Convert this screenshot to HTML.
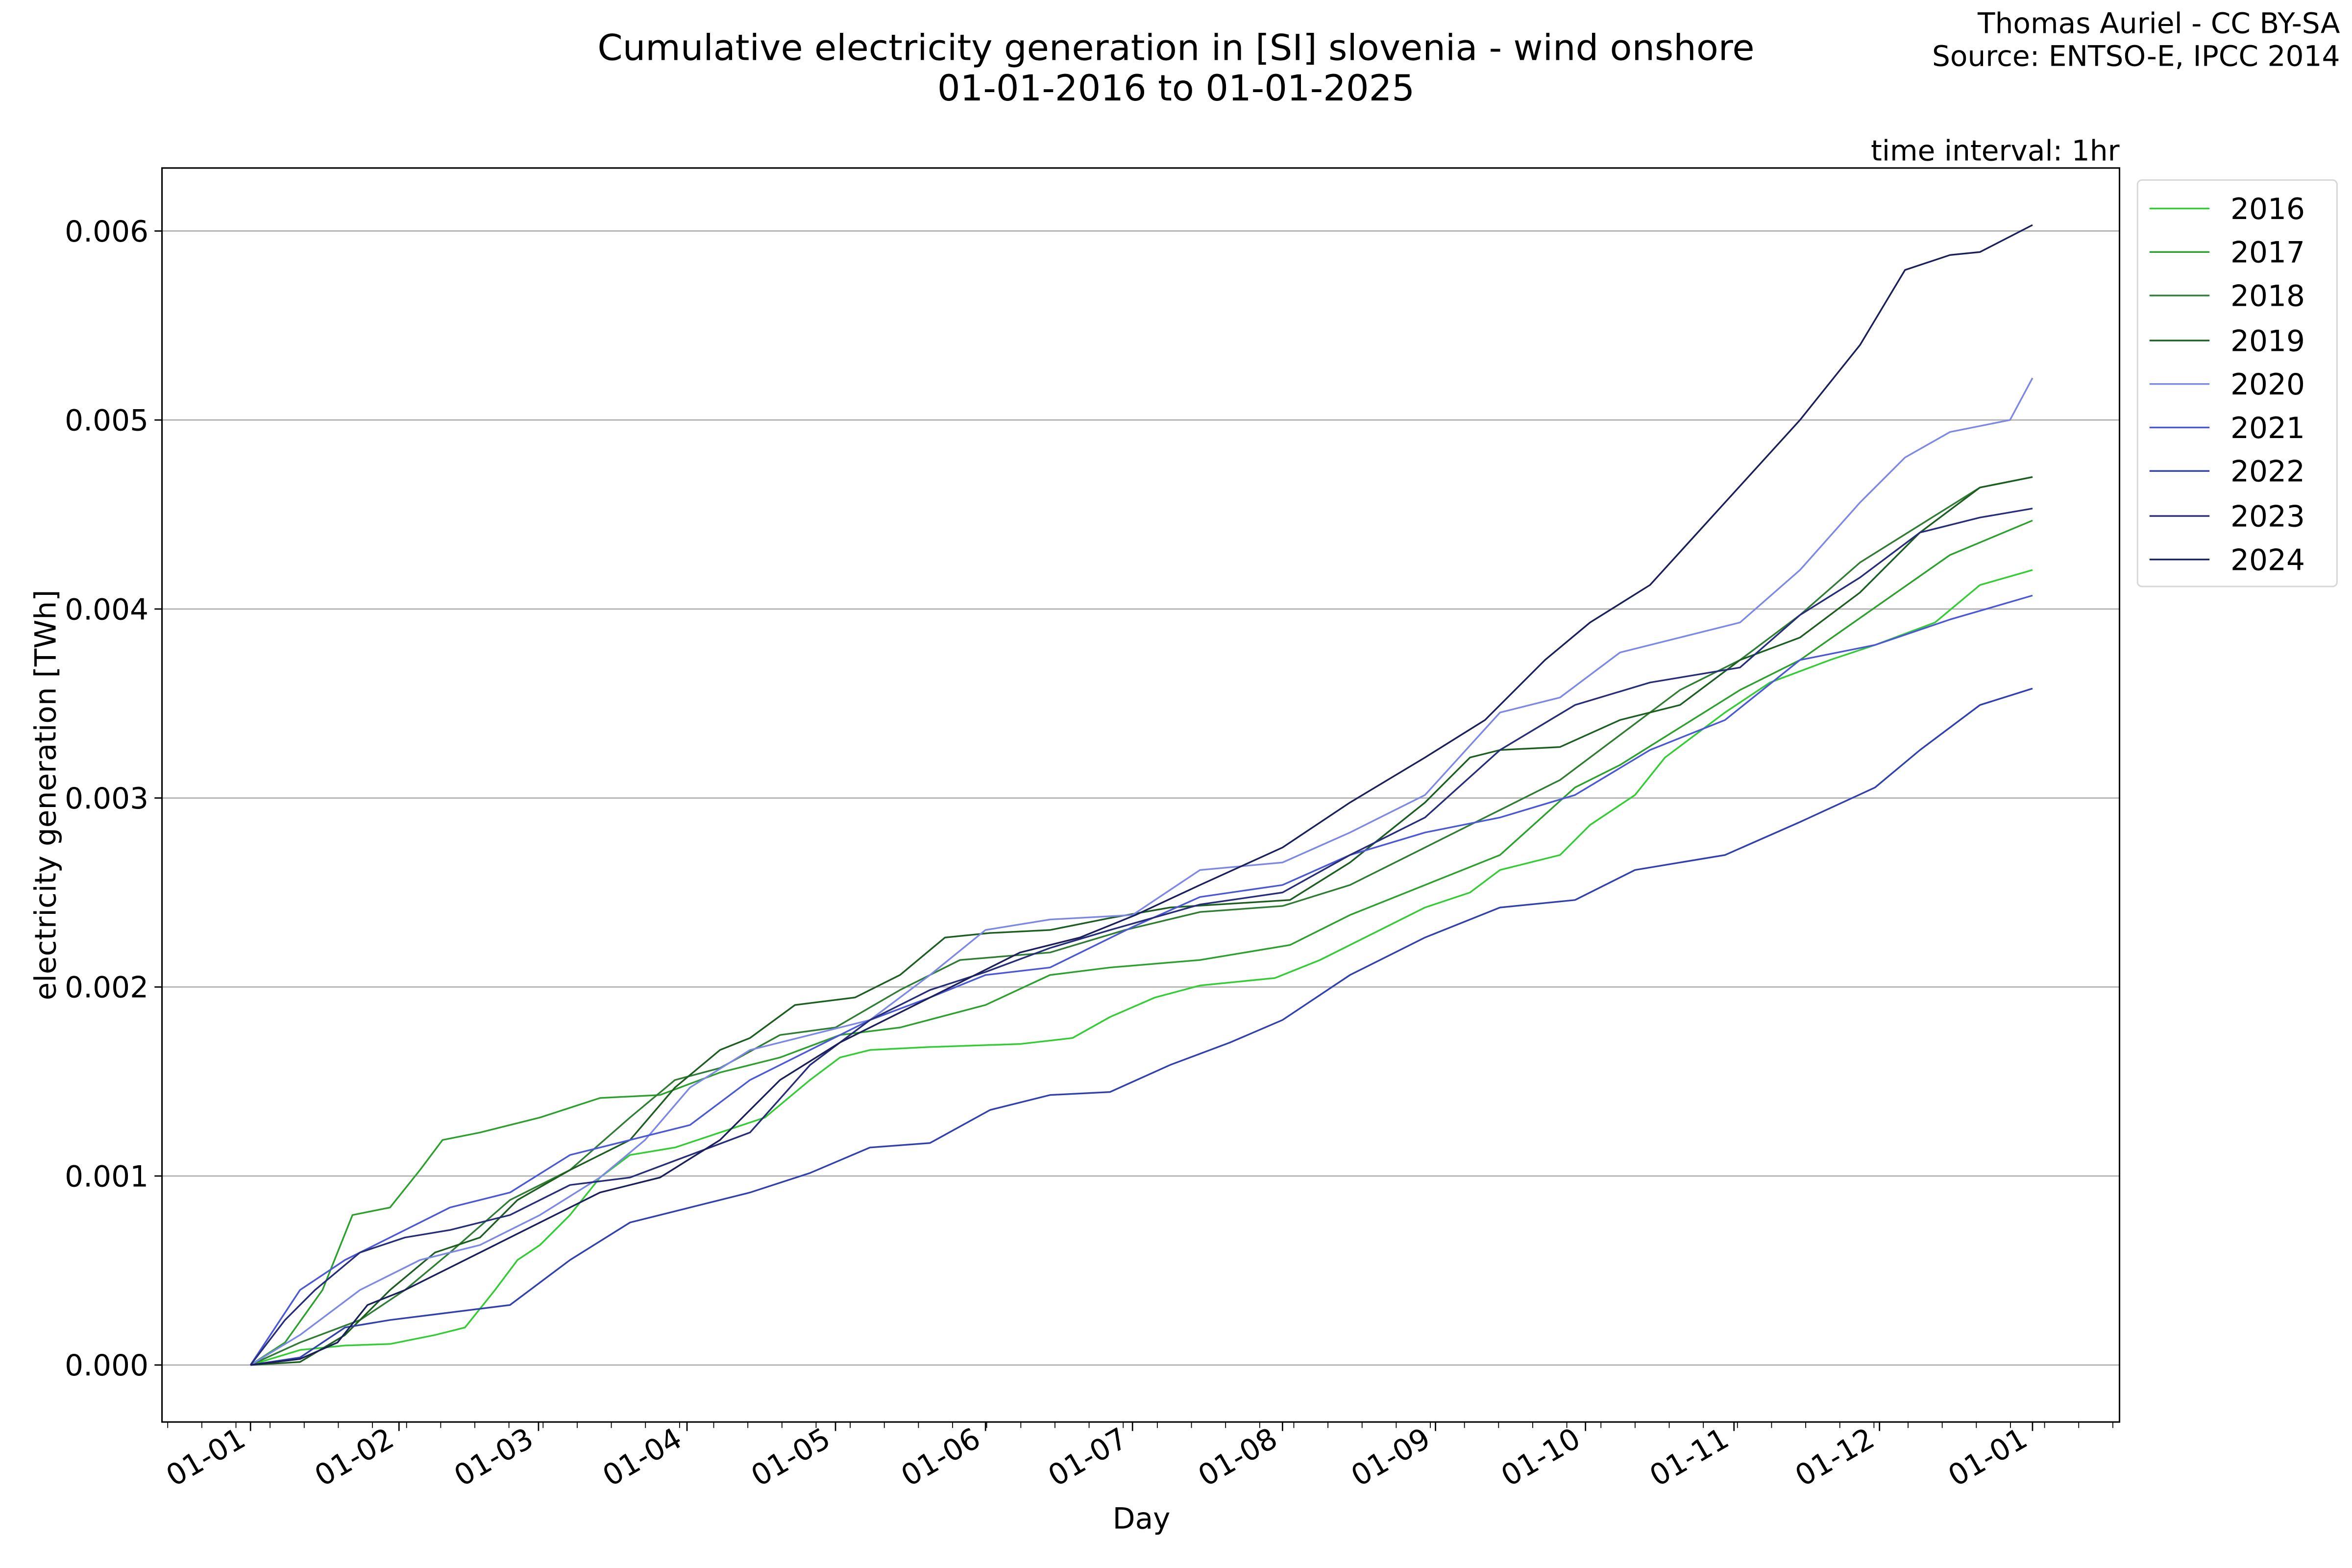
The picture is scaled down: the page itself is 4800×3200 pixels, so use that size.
<!DOCTYPE html>
<html><head><meta charset="utf-8"><style>
html,body{margin:0;padding:0;background:#fff;}
svg{display:block;}
text{font-family:"DejaVu Sans","Liberation Sans",sans-serif;fill:#000;}
</style></head><body>
<svg width="4800" height="3200" viewBox="0 0 1568 1045.33" xmlns="http://www.w3.org/2000/svg">
<rect width="1568" height="1046" fill="#fff"/>
<g font-size="24" text-anchor="middle">
<text x="784" y="40">Cumulative electricity generation in [SI] slovenia - wind onshore</text>
<text x="784" y="67">01-01-2016 to 01-01-2025</text>
</g>
<g font-size="19" text-anchor="end">
<text x="1560" y="22">Thomas Auriel - CC BY-SA</text>
<text x="1560" y="44">Source: ENTSO-E, IPCC 2014</text>
<text x="1413" y="107">time interval: 1hr</text>
</g>
<g stroke="#b0b0b0" stroke-width="0.9">
<line x1="108" x2="1413" y1="910" y2="910"/>
<line x1="108" x2="1413" y1="784" y2="784"/>
<line x1="108" x2="1413" y1="658" y2="658"/>
<line x1="108" x2="1413" y1="532" y2="532"/>
<line x1="108" x2="1413" y1="406" y2="406"/>
<line x1="108" x2="1413" y1="280" y2="280"/>
<line x1="108" x2="1413" y1="154" y2="154"/>
</g>
<g stroke="#000" stroke-width="0.9">
<line x1="103" x2="108" y1="910" y2="910"/><line x1="103" x2="108" y1="784" y2="784"/>
<line x1="103" x2="108" y1="658" y2="658"/><line x1="103" x2="108" y1="532" y2="532"/>
<line x1="103" x2="108" y1="406" y2="406"/><line x1="103" x2="108" y1="280" y2="280"/>
<line x1="103" x2="108" y1="154" y2="154"/>
</g>
<g font-size="19.5" text-anchor="end">
<text x="99" y="917">0.000</text><text x="99" y="791">0.001</text><text x="99" y="665">0.002</text>
<text x="99" y="539">0.003</text><text x="99" y="413">0.004</text><text x="99" y="287">0.005</text>
<text x="99" y="161">0.006</text>
</g>
<g fill="none" stroke-width="1.1" stroke-linejoin="round">
<polyline stroke="#32cd32" points="167,910 200,900 230,897 260,896 290,890 310,885 330,860 345,840 360,830 380,810 400,785 420,770 450,765 480,755 510,745 540,720 560,705 580,700 620,698 680,696 715,692 740,678 770,665 800,657 850,652 880,640 910,625 950,605 980,595 1000,580 1040,570 1060,550 1090,530 1110,505 1150,475 1180,455 1220,440 1250,430 1290,415 1320,390 1355,380"/>
<polyline stroke="#2ca02c" points="167,910 190,895 215,860 235,810 260,805 280,780 295,760 320,755 360,745 400,732 440,730 480,715 520,705 560,690 600,685 657,670 700,650 740,645 800,640 860,630 900,610 950,590 1000,570 1050,525 1080,510 1120,485 1160,460 1200,440 1250,405 1300,370 1355,347"/>
<polyline stroke="#2e7d32" points="167,910 200,895 240,880 270,860 300,835 340,800 380,780 420,745 450,720 480,712 520,690 557,685 600,660 640,640 700,635 750,620 800,608 855,604 900,590 950,565 1000,540 1040,520 1080,490 1120,460 1160,440 1200,410 1240,375 1280,350 1320,325 1355,318"/>
<polyline stroke="#1b5e20" points="167,910 200,908 230,890 260,860 290,835 320,825 345,800 380,780 420,760 450,725 480,700 500,692 530,670 570,665 600,650 630,625 660,622 700,620 740,612 780,605 860,600 900,575 950,535 980,505 1000,500 1040,498 1080,480 1120,470 1160,440 1200,425 1240,395 1280,355 1320,325 1355,318"/>
<polyline stroke="#7b88e6" points="167,910 200,890 240,860 280,840 320,830 360,810 400,785 430,760 460,725 500,700 540,690 580,680 620,650 657,620 700,613 755,610 800,580 855,575 900,555 950,530 1000,475 1040,465 1080,435 1120,425 1160,415 1200,380 1240,335 1270,305 1300,288 1340,280 1355,252"/>
<polyline stroke="#4a58d8" points="167,910 200,860 230,840 260,825 300,805 340,795 380,770 420,760 460,750 500,720 540,700 580,680 620,665 657,650 700,645 755,618 800,598 855,590 900,570 950,555 1000,545 1050,530 1100,500 1150,480 1200,440 1250,430 1300,413 1355,397"/>
<polyline stroke="#3040b0" points="167,910 200,905 230,885 260,880 300,875 340,870 380,840 420,815 460,805 500,795 540,782 580,765 620,762 660,740 700,730 740,728 780,710 820,695 855,680 900,650 950,625 1000,605 1050,600 1090,580 1150,570 1200,548 1250,525 1280,500 1320,470 1355,459"/>
<polyline stroke="#252c7a" points="167,910 190,880 210,860 240,835 270,825 300,820 340,810 380,790 420,785 460,770 500,755 540,710 580,680 620,660 657,648 700,632 740,620 800,603 855,595 900,570 950,545 1000,500 1050,470 1100,455 1160,445 1200,410 1240,385 1280,355 1320,345 1355,339"/>
<polyline stroke="#1a1f5c" points="167,910 200,906 225,895 245,870 270,860 300,845 330,830 360,815 400,795 440,785 480,760 520,720 560,695 600,675 640,655 680,635 720,625 757,610 800,590 855,565 900,535 950,505 990,480 1030,440 1060,415 1100,390 1150,335 1200,280 1240,230 1270,180 1300,170 1320,168 1355,150"/>
</g>
<rect x="108" y="112" width="1305" height="836" fill="none" stroke="#000" stroke-width="1"/>
<line x1="111.5" x2="1413" y1="950" y2="950" stroke="#000" stroke-width="4" stroke-dasharray="0.6 22.15"/>
<g stroke="#000" stroke-width="0.9">
<line x1="167" x2="167" y1="948" y2="954"/><line x1="266" x2="266" y1="948" y2="954"/>
<line x1="359" x2="359" y1="948" y2="954"/><line x1="458" x2="458" y1="948" y2="954"/>
<line x1="557" x2="557" y1="948" y2="954"/><line x1="657" x2="657" y1="948" y2="954"/>
<line x1="755" x2="755" y1="948" y2="954"/><line x1="855" x2="855" y1="948" y2="954"/>
<line x1="957" x2="957" y1="948" y2="954"/><line x1="1057" x2="1057" y1="948" y2="954"/>
<line x1="1156" x2="1156" y1="948" y2="954"/><line x1="1253" x2="1253" y1="948" y2="954"/>
<line x1="1355" x2="1355" y1="948" y2="954"/>
</g>
<g font-size="19.5" text-anchor="end">
<text transform="translate(165,963) rotate(-30)">01-01</text>
<text transform="translate(264,963) rotate(-30)">01-02</text>
<text transform="translate(357,963) rotate(-30)">01-03</text>
<text transform="translate(456,963) rotate(-30)">01-04</text>
<text transform="translate(555,963) rotate(-30)">01-05</text>
<text transform="translate(655,963) rotate(-30)">01-06</text>
<text transform="translate(753,963) rotate(-30)">01-07</text>
<text transform="translate(853,963) rotate(-30)">01-08</text>
<text transform="translate(955,963) rotate(-30)">01-09</text>
<text transform="translate(1055,963) rotate(-30)">01-10</text>
<text transform="translate(1154,963) rotate(-30)">01-11</text>
<text transform="translate(1251,963) rotate(-30)">01-12</text>
<text transform="translate(1353,963) rotate(-30)">01-01</text>
</g>
<text x="761" y="1019" font-size="19.5" text-anchor="middle">Day</text>
<text transform="translate(37,530) rotate(-90)" font-size="19.5" text-anchor="middle">electricity generation [TWh]</text>
<rect x="1425" y="120" width="133" height="271" rx="3" fill="#fff" stroke="#d8d8d8" stroke-width="1"/>
<g stroke-width="1.1">
<line x1="1433" x2="1473" y1="139" y2="139" stroke="#32cd32"/>
<line x1="1433" x2="1473" y1="168" y2="168" stroke="#2ca02c"/>
<line x1="1433" x2="1473" y1="197" y2="197" stroke="#2e7d32"/>
<line x1="1433" x2="1473" y1="227" y2="227" stroke="#1b5e20"/>
<line x1="1433" x2="1473" y1="256" y2="256" stroke="#7b88e6"/>
<line x1="1433" x2="1473" y1="285" y2="285" stroke="#4a58d8"/>
<line x1="1433" x2="1473" y1="314" y2="314" stroke="#3040b0"/>
<line x1="1433" x2="1473" y1="344" y2="344" stroke="#252c7a"/>
<line x1="1433" x2="1473" y1="373" y2="373" stroke="#1a1f5c"/>
</g>
<g font-size="19.5">
<text x="1487" y="146">2016</text><text x="1487" y="175">2017</text><text x="1487" y="204">2018</text>
<text x="1487" y="234">2019</text><text x="1487" y="263">2020</text><text x="1487" y="292">2021</text>
<text x="1487" y="321">2022</text><text x="1487" y="351">2023</text><text x="1487" y="380">2024</text>
</g>
</svg>
</body></html>
